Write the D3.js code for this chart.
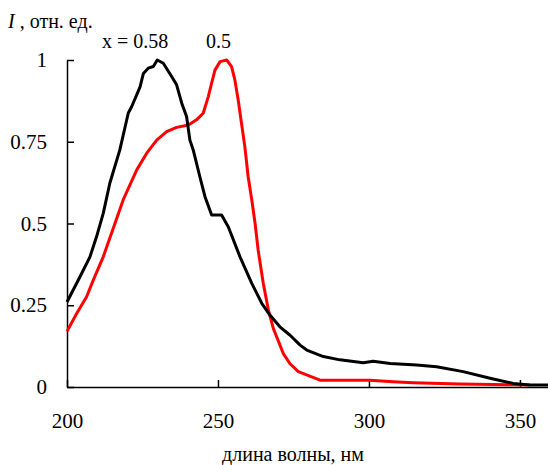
<!doctype html>
<html>
<head>
  <meta charset="UTF-8">
  <script src="https://cdn.jsdelivr.net/npm/d3@7"></script>
  <style>
    body { margin: 0; background: #fff; }
    .axis path, .axis line { fill: none; stroke: #000; stroke-width: 1.5px; }
    path.curve { fill: none; stroke-width: 3px; stroke-linejoin: round; }
  </style>
</head>
<body>
<script>
  // x = 0.58 (black curve)
  var wlBlack = [200, 204.3, 207.6, 209.8, 212.0, 214.2, 217.5, 220.3, 221.4, 224.2, 225.3, 226.9, 228.6, 229.9,
    231.9, 234.7, 236.3, 238.0, 239.6, 240.7, 241.8, 244.0, 245.7, 247.9, 251.2, 253.4, 257.3, 261.2, 264.5,
    267.2, 270.5, 273.8, 277.2, 279.4, 284.9, 290.4, 298.1, 301.4, 307.0, 315.8, 322.4, 331.2, 340.1, 347.8,
    353.3, 359.3];
  var iBlack = [0.26, 0.337, 0.398, 0.46, 0.531, 0.624, 0.725, 0.838, 0.857, 0.918, 0.959, 0.975, 0.98, 1.0,
    0.99, 0.949, 0.924, 0.868, 0.827, 0.755, 0.725, 0.643, 0.582, 0.526, 0.526, 0.49, 0.398, 0.317, 0.256,
    0.22, 0.184, 0.159, 0.128, 0.113, 0.093, 0.083, 0.074, 0.079, 0.072, 0.067, 0.062, 0.047, 0.027, 0.011,
    0.006, 0.006];

  // x = 0.5 (red curve)
  var wlRed = [200, 203.2, 206.5, 208.7, 212.0, 215.3, 218.6, 223.1, 226.4, 229.7, 233.0, 236.3, 240.2, 242.9,
    245.1, 246.8, 247.9, 249.0, 250.7, 252.9, 254.5, 255.6, 256.7, 257.8, 258.9, 260.0, 261.2, 262.3, 263.3,
    265.0, 266.7, 268.3, 271.6, 273.8, 276.6, 283.8, 300.3, 308.0, 314.6, 330.1, 353.3];
  var iRed = [0.17, 0.225, 0.276, 0.327, 0.398, 0.485, 0.572, 0.664, 0.715, 0.755, 0.781, 0.794, 0.801, 0.817,
    0.837, 0.888, 0.929, 0.969, 0.995, 1.0, 0.98, 0.939, 0.878, 0.806, 0.735, 0.643, 0.572, 0.5, 0.419,
    0.317, 0.235, 0.18, 0.103, 0.072, 0.047, 0.021, 0.021, 0.016, 0.013, 0.009, 0.006];

  var xTicks = [200, 250, 300, 350];
  var yTicks = [0, 0.25, 0.5, 0.75, 1];

  var width = 548, height = 465;

  var xScale = d3.scaleLinear().domain([200, 359.3]).range([67, 548]);
  var yScale = d3.scaleLinear().domain([0, 1]).range([387, 60]);

  var svg = d3.select("body").append("svg")
    .attr("width", width)
    .attr("height", height);

  var xAxis = d3.axisBottom(xScale)
    .tickValues(xTicks)
    .tickSizeInner(-7)
    .tickSizeOuter(0)
    .tickPadding(26)
    .tickFormat(d3.format("d"));

  var yAxis = d3.axisLeft(yScale)
    .tickValues(yTicks)
    .tickSizeInner(-7)
    .tickSizeOuter(0)
    .tickPadding(20)
    .tickFormat(function(d) { return String(d); });

  svg.append("g")
    .attr("class", "x axis")
    .attr("transform", "translate(0," + yScale(0) + ")")
    .call(xAxis)
    .attr("font-family", null);

  svg.append("g")
    .attr("class", "y axis")
    .attr("transform", "translate(" + xScale(200) + ",0)")
    .call(yAxis)
    .attr("font-family", null);

  var line = d3.line()
    .x(function(d) { return xScale(d[0]); })
    .y(function(d) { return yScale(d[1]); });

  svg.append("path")
    .attr("class", "curve")
    .attr("stroke", "#ff0000")
    .attr("d", line(d3.zip(wlRed, iRed)));

  svg.append("path")
    .attr("class", "curve")
    .attr("stroke", "#000000")
    .attr("d", line(d3.zip(wlBlack, iBlack)));

  // axis titles
  var yTitle = svg.append("text")
    .attr("x", 8)
    .attr("y", 28)
    .style("font-size", "20px");
  yTitle.append("tspan").style("font-style", "italic").text("I");
  yTitle.append("tspan").text(" , отн. ед.");

  svg.append("text")
    .attr("x", 293)
    .attr("y", 461)
    .attr("text-anchor", "middle")
    .style("font-size", "20px")
    .text("длина волны, нм");

  // curve labels
  svg.append("text")
    .attr("x", 102)
    .attr("y", 48)
    .style("font-size", "20px")
    .text("x = 0.58");

  svg.append("text")
    .attr("x", 206)
    .attr("y", 48)
    .style("font-size", "20px")
    .text("0.5");

  // all text in Times-like serif
  svg.selectAll("text")
    .attr("fill", "#000")
    .style("font-family", "'Liberation Serif'");
  svg.selectAll(".axis text").style("font-size", "21px");
</script>
</body>
</html>
